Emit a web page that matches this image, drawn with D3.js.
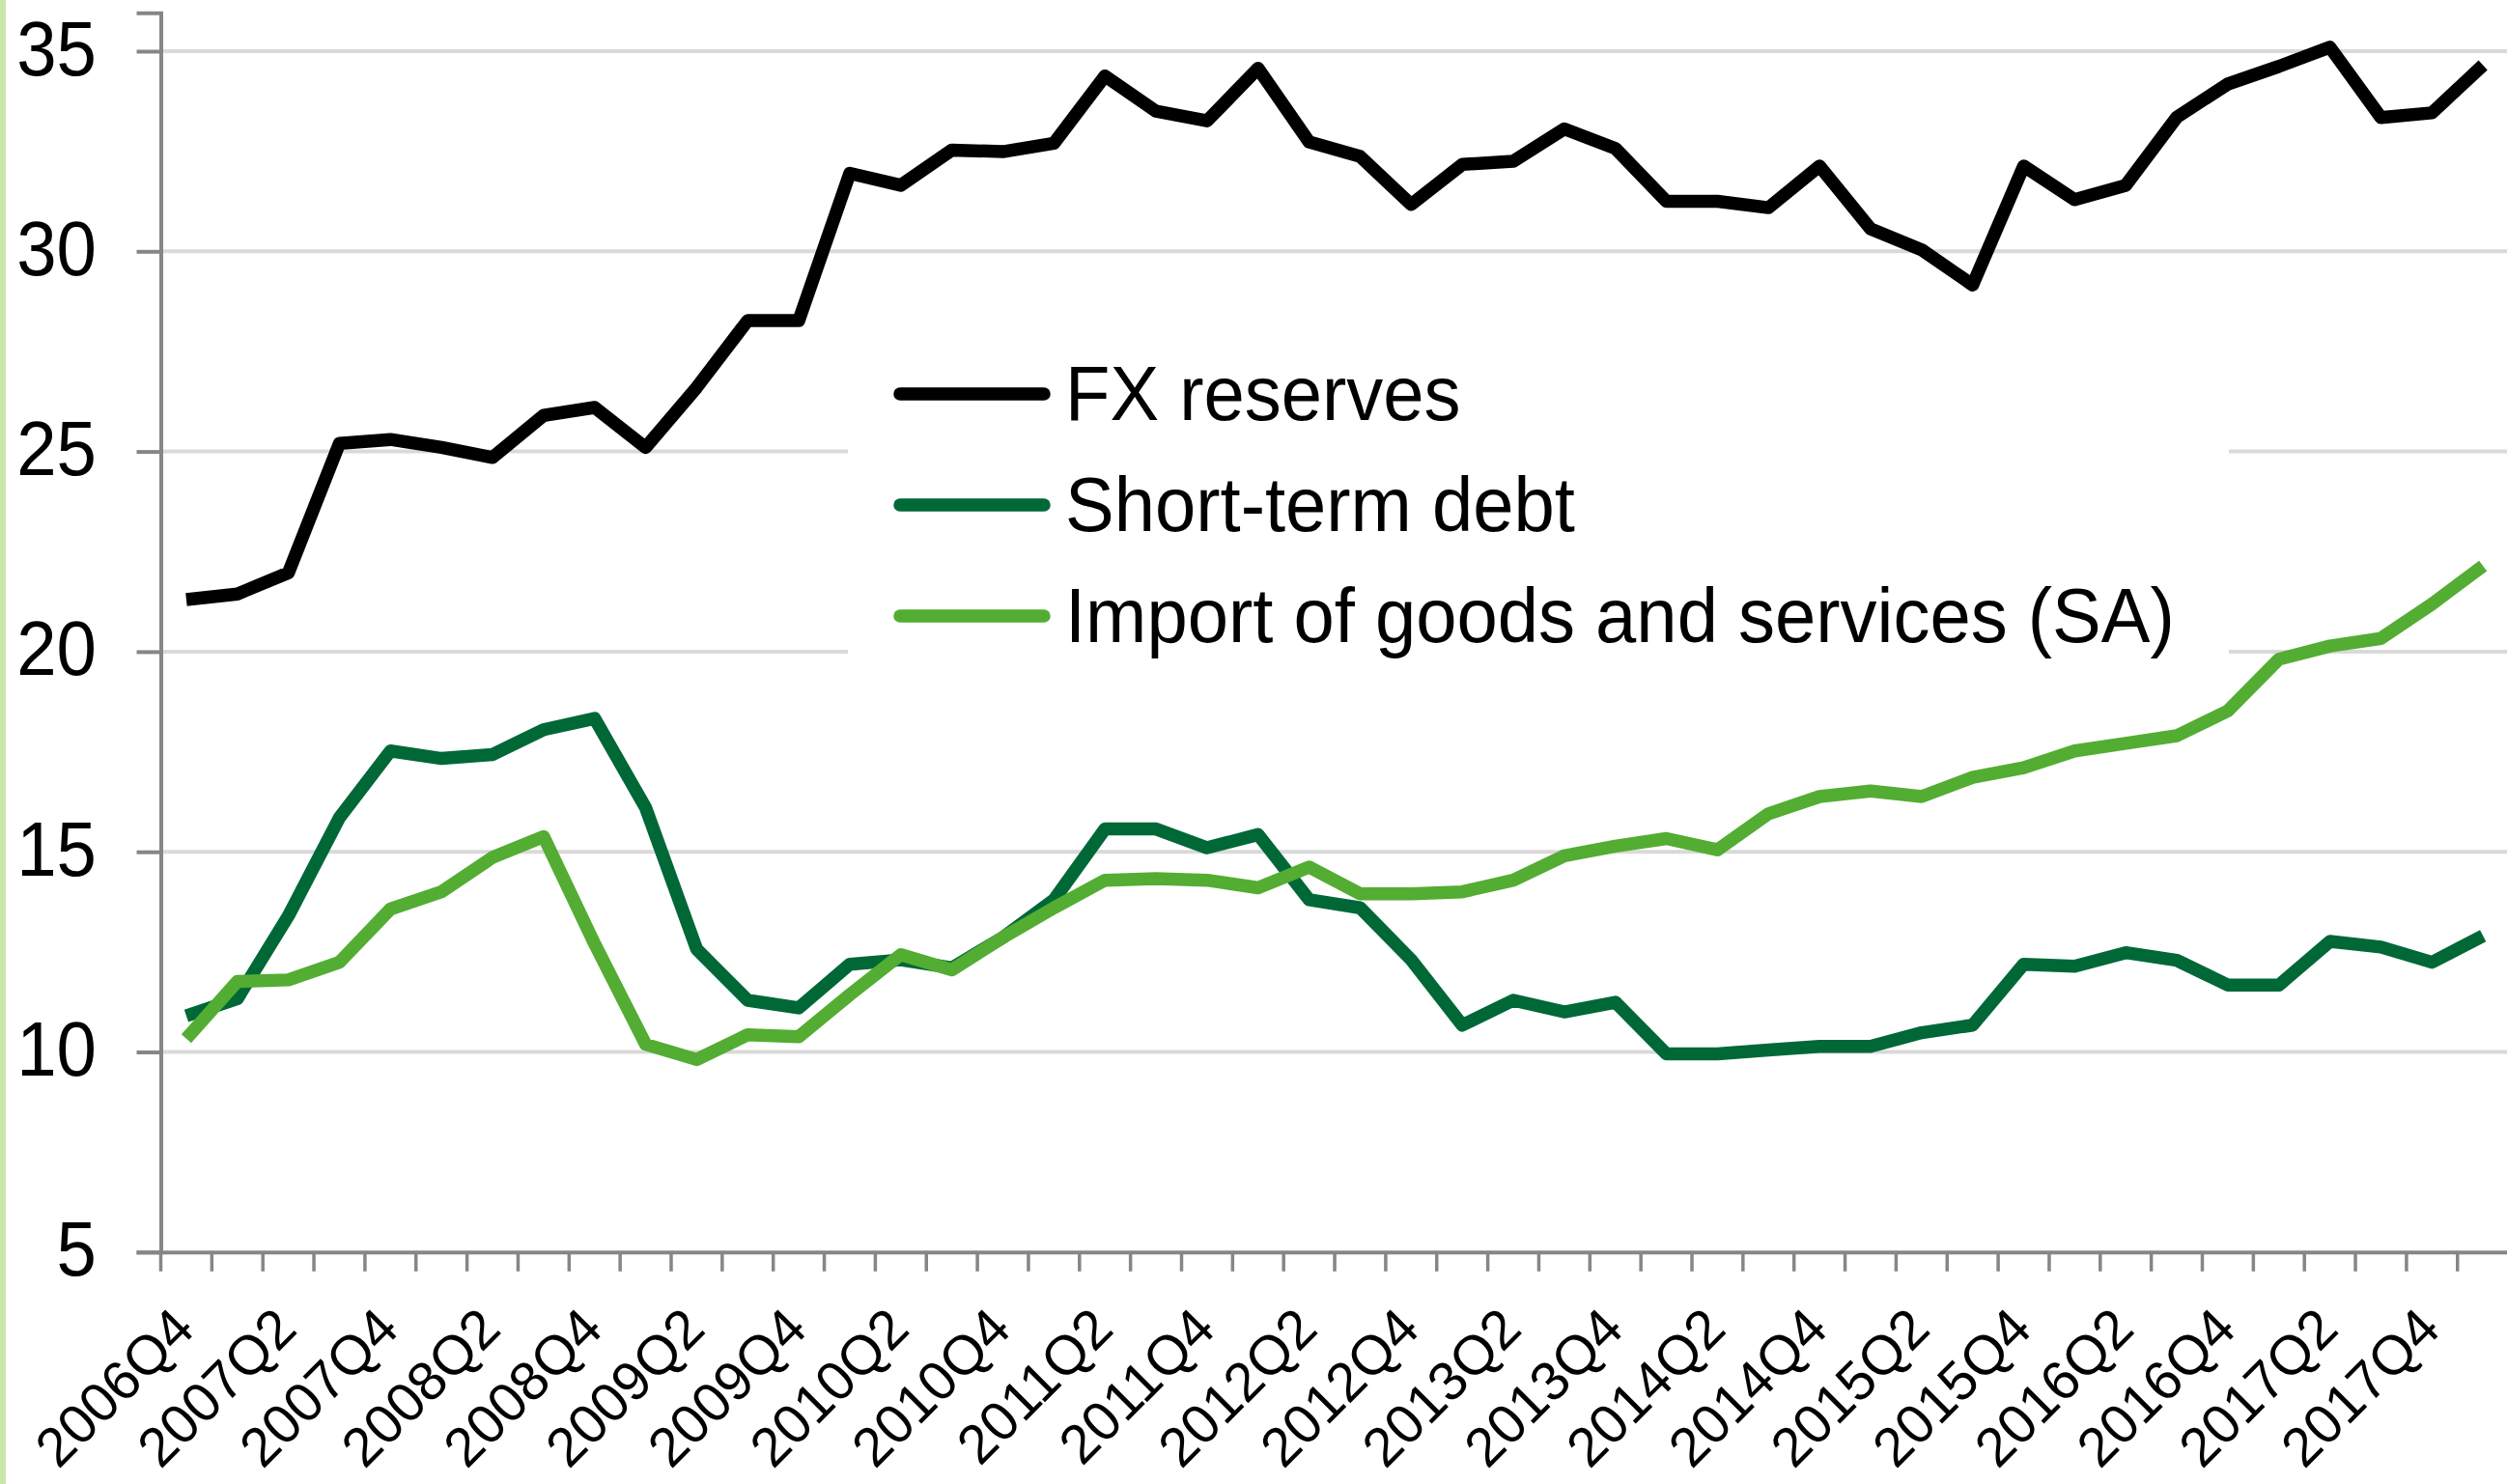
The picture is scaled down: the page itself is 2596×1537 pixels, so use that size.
<!DOCTYPE html>
<html>
<head>
<meta charset="utf-8">
<script src="https://cdn.jsdelivr.net/npm/d3@7/dist/d3.min.js"></script>
<style>
  html, body { margin: 0; padding: 0; background: #ffffff; }
  svg { display: block; }
  text { font-family: "Liberation Sans", Arial, sans-serif; }
</style>
</head>
<body>
<svg id="chart" width="2596" height="1537"></svg>
<script>
// ---- DATA ----
const categories = [
  "2006Q4",
  "2007Q1","2007Q2","2007Q3","2007Q4",
  "2008Q1","2008Q2","2008Q3","2008Q4",
  "2009Q1","2009Q2","2009Q3","2009Q4",
  "2010Q1","2010Q2","2010Q3","2010Q4",
  "2011Q1","2011Q2","2011Q3","2011Q4",
  "2012Q1","2012Q2","2012Q3","2012Q4",
  "2013Q1","2013Q2","2013Q3","2013Q4",
  "2014Q1","2014Q2","2014Q3","2014Q4",
  "2015Q1","2015Q2","2015Q3","2015Q4",
  "2016Q1","2016Q2","2016Q3","2016Q4",
  "2017Q1","2017Q2","2017Q3","2017Q4",
  "2018Q1"
];

const tickLabels = [
  "2006Q4","2007Q2","2007Q4","2008Q2","2008Q4","2009Q2","2009Q4",
  "2010Q2","2010Q4","2011Q2","2011Q4","2012Q2","2012Q4","2013Q2",
  "2013Q4","2014Q2","2014Q4","2015Q2","2015Q4","2016Q2","2016Q4",
  "2017Q2","2017Q4"
];

const yTicks = [5, 10, 15, 20, 25, 30, 35];

const fxReserves = [
  21.3, 21.44, 21.97, 25.2, 25.3, 25.1, 24.85, 25.9, 26.1, 25.1,
  26.6, 28.27, 28.27, 31.95, 31.65, 32.53, 32.49, 32.7, 34.38, 33.5,
  33.26, 34.57, 32.73, 32.37, 31.17, 32.17, 32.25, 33.06, 32.57, 31.25,
  31.25, 31.09, 32.13, 30.56, 30.04, 29.16, 32.13, 31.29, 31.65, 33.35,
  34.18, 34.62, 35.1, 33.34, 33.46, 34.65
];

const shortTermDebt = [
  10.9, 11.33, 13.4, 15.85, 17.52, 17.33, 17.43, 18.05, 18.33, 16.1,
  12.57, 11.29, 11.1, 12.19, 12.3, 12.1, 12.86, 13.8, 15.57, 15.57,
  15.1, 15.43, 13.8, 13.6, 12.3, 10.67, 11.29, 11.0, 11.24, 9.95,
  9.95, 10.05, 10.14, 10.14, 10.48, 10.67, 12.19, 12.14, 12.48, 12.29,
  11.67, 11.67, 12.76, 12.62, 12.24, 12.9
];

const imports = [
  10.33, 11.76, 11.8, 12.24, 13.57, 14.0, 14.86, 15.38, 12.7, 10.19,
  9.81, 10.43, 10.38, 11.43, 12.43, 12.05, 12.86, 13.6, 14.29, 14.33,
  14.29, 14.1, 14.62, 13.95, 13.95, 14.0, 14.29, 14.9, 15.14, 15.33,
  15.05, 15.95, 16.38, 16.52, 16.38, 16.86, 17.1, 17.52, 17.71, 17.9,
  18.52, 19.81, 20.14, 20.33, 21.19, 22.14
];

const seriesNames = ["FX reserves", "Short-term debt", "Import of goods and services (SA)"];
const seriesColors = ["#000000", "#006837", "#53ad32"];

// ---- LAYOUT ----
const svg = d3.select("#chart");
const W = 2596, H = 1537;
const plotLeft = 166.5, plotRight = 2597.6;
const plotBottom = 1296.8;
const yMin = 5, yMax = 35.96;

const x = d3.scaleBand().domain(categories).range([plotLeft, plotRight]).paddingInner(0).paddingOuter(0);
const y = d3.scaleLinear().domain([yMin, yMax]).range([plotBottom, plotBottom - (yMax - yMin) * 41.46]);
const cx = c => x(c) + x.bandwidth() / 2;

svg.append("rect").attr("x", 0).attr("y", 0).attr("width", W).attr("height", H).attr("fill", "#ffffff");
// left green strip
svg.append("rect").attr("x", 0).attr("y", 0).attr("width", 6).attr("height", H).attr("fill", "#c8e6a9");

// gridlines
svg.append("g").selectAll("line").data(yTicks.filter(v => v !== yMin)).join("line")
  .attr("x1", plotLeft).attr("x2", W)
  .attr("y1", d => y(d)).attr("y2", d => y(d))
  .attr("stroke", "#d9d9d9").attr("stroke-width", 4);

// legend background box (hides gridlines)
svg.append("rect").attr("x", 878).attr("y", 330).attr("width", 2308 - 878).attr("height", 370)
  .attr("fill", "#ffffff");

// Y axis
const yAxis = d3.axisLeft(y).tickValues(yTicks).tickSize(25).tickFormat("");
const gy = svg.append("g").attr("transform", `translate(${plotLeft},0)`).call(yAxis);
gy.select(".domain").attr("stroke", "#868686").attr("stroke-width", 4);
gy.selectAll(".tick line").attr("stroke", "#868686").attr("stroke-width", 4);

// Y tick labels (slightly condensed)
svg.append("g").selectAll("text").data(yTicks).join("text")
  .attr("transform", d => `translate(100,${y(d) + 24.5}) scale(0.93,1)`)
  .attr("text-anchor", "end")
  .attr("font-size", 80)
  .attr("fill", "#000")
  .text(d => d);

// X axis
const xAxis = d3.axisBottom(x).tickSize(0).tickFormat("");
const gx = svg.append("g").attr("transform", `translate(0,${plotBottom})`).call(xAxis);
gx.select(".domain").attr("stroke", "#868686").attr("stroke-width", 4);
// tick marks at category boundaries
const bounds = categories.map(c => x(c));
svg.append("g").selectAll("line").data(bounds).join("line")
  .attr("x1", d => d).attr("x2", d => d)
  .attr("y1", plotBottom).attr("y2", plotBottom + 20)
  .attr("stroke", "#868686").attr("stroke-width", 3.5);

// X labels
svg.append("g").selectAll("text").data(tickLabels).join("text")
  .attr("transform", d => `translate(${cx(d) + 11},${1379}) rotate(-45)`)
  .attr("text-anchor", "end")
  .attr("font-size", 57)
  .attr("fill", "#000")
  .text(d => d);

// Lines
const line = d3.line().x((d, i) => cx(categories[i])).y(d => y(d));
[fxReserves, shortTermDebt, imports].forEach((s, k) => {
  svg.append("path").datum(s)
    .attr("d", line)
    .attr("fill", "none")
    .attr("stroke", seriesColors[k])
    .attr("stroke-width", 13.5)
    .attr("stroke-linejoin", "round")
    .attr("stroke-linecap", "butt");
});

// Legend
const legendRows = [408, 523, 638];
const lg = svg.append("g");
seriesNames.forEach((name, k) => {
  lg.append("line")
    .attr("x1", 932).attr("x2", 1081)
    .attr("y1", legendRows[k]).attr("y2", legendRows[k])
    .attr("stroke", seriesColors[k]).attr("stroke-width", 13.5)
    .attr("stroke-linecap", "round");
  lg.append("text")
    .attr("transform", `translate(1103,${legendRows[k] + 27}) scale(0.95,1)`)
    .attr("font-size", 80)
    .attr("fill", "#000")
    .text(name);
});
</script>
</body>
</html>
